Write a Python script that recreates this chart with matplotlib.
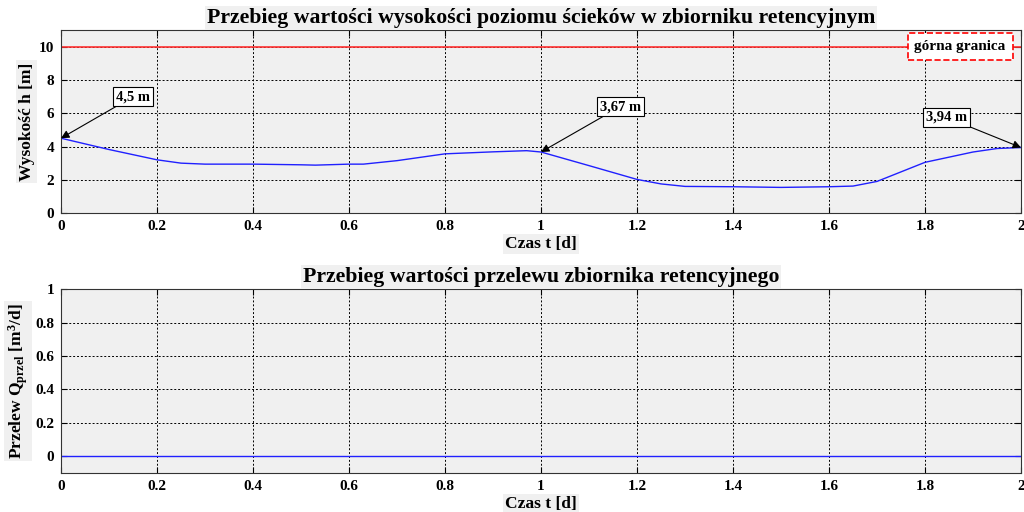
import matplotlib
matplotlib.use("Agg")
import matplotlib.pyplot as plt
import numpy as np

plt.rcParams['font.family'] = ['Liberation Serif', 'DejaVu Serif']
plt.rcParams['font.weight'] = 'bold'
plt.rcParams['mathtext.fontset'] = 'custom'
plt.rcParams['mathtext.rm'] = 'Liberation Serif:weight=bold'
plt.rcParams['mathtext.bf'] = 'Liberation Serif:weight=bold'
plt.rcParams['mathtext.it'] = 'Liberation Serif:weight=bold'
plt.rcParams['mathtext.default'] = 'rm'

# data
t = [0.0, 0.1, 0.2, 0.25, 0.3, 0.4, 0.5, 0.53, 0.6, 0.63, 0.7, 0.8, 0.9, 0.97,
     1.0, 1.1, 1.2, 1.25, 1.3, 1.4, 1.5, 1.6, 1.65, 1.7, 1.8, 1.9, 1.95, 2.0]
h = [4.5, 3.82, 3.2, 3.0, 2.94, 2.94, 2.9, 2.88, 2.94, 2.94, 3.15, 3.56, 3.68, 3.75,
     3.67, 2.85, 2.02, 1.75, 1.6, 1.58, 1.54, 1.58, 1.62, 1.9, 3.05, 3.67, 3.88, 3.94]
h_max = 10
t_q = [0.0, 2.0]
q = [0.0, 0.0]

annot = [("4,5 m", 0.0, 4.5, 0.15, 7.0),
         ("3,67 m", 1.0, 3.67, 1.165, 6.4),
         ("3,94 m", 2.0, 3.94, 1.845, 5.75)]

xticks = [0, 0.2, 0.4, 0.6, 0.8, 1, 1.2, 1.4, 1.6, 1.8, 2]
xlabels = ["0", "0.2", "0.4", "0.6", "0.8", "1", "1.2", "1.4", "1.6", "1.8", "2"]

bg = "#f0f0f0"
lab_box = dict(facecolor=bg, edgecolor="none", pad=1.5)

fig = plt.figure(figsize=(10.24, 5.12), dpi=100)
ax1 = fig.add_axes([0.0596, 0.584, 0.9375, 0.357])
ax2 = fig.add_axes([0.0596, 0.0762, 0.9375, 0.359])


def style(ax):
    ax.set_facecolor(bg)
    ax.set_xlim(0, 2)
    ax.set_xticks(xticks)
    ax.set_xticklabels(xlabels)
    ax.grid(True, color="black", linestyle=(0, (2, 2)), linewidth=0.7)
    ax.tick_params(direction="in", top=True, right=True, labelsize=11, length=4, pad=5)
    for s in ax.spines.values():
        s.set_linewidth(0.8)
        s.set_color("#333333")


# top chart
ax1.plot(t, h, color="#2020ff", linewidth=1)
ax1.axhline(h_max, color="#ff3030", linewidth=1.2)
style(ax1)
ax1.set_ylim(0, 11)
ax1.set_yticks([0, 2, 4, 6, 8, 10])
ax1.set_title("Przebieg wartości wysokości poziomu ścieków w zbiorniku retencyjnym",
              fontsize=15.7, fontweight="bold", bbox=lab_box, pad=5)
ax1.set_xlabel("Czas t [d]", fontsize=12.5, fontweight="bold", bbox=lab_box, labelpad=2)
ax1.set_ylabel("Wysokość h [m]", fontsize=12.5, fontweight="bold", bbox=lab_box, labelpad=3)

for txt, x0, y0, xt, yt in annot:
    ax1.annotate(txt, xy=(x0, y0), xytext=(xt, yt), fontsize=10.5, fontweight="bold",
                 ha="center", va="center",
                 bbox=dict(facecolor="white", edgecolor="black", linewidth=0.8, pad=2),
                 arrowprops=dict(arrowstyle="-|>", color="black", linewidth=0.8,
                                 shrinkA=0, shrinkB=0, mutation_scale=12))

ax1.text(1.873, h_max, "górna granica", fontsize=11, fontweight="bold",
         ha="center", va="center",
         bbox=dict(facecolor="white", edgecolor="red", linestyle="--", linewidth=1.2,
                   boxstyle="square,pad=0.45"))

# bottom chart
ax2.plot(t_q, q, color="#2020ff", linewidth=1)
style(ax2)
ax2.set_ylim(-0.1, 1)
ax2.set_yticks([0, 0.2, 0.4, 0.6, 0.8, 1])
ax2.set_yticklabels(["0", "0.2", "0.4", "0.6", "0.8", "1"])
ax2.set_title("Przebieg wartości przelewu zbiornika retencyjnego",
              fontsize=15.7, fontweight="bold", bbox=lab_box, pad=5)
ax2.set_xlabel("Czas t [d]", fontsize=12.5, fontweight="bold", bbox=lab_box, labelpad=2)
ax2.set_ylabel(r"Przelew Q$_{\mathrm{przel}}$ [m$^{\mathrm{3}}$/d]", fontsize=12.5,
               fontweight="bold", bbox=lab_box, labelpad=4)

fig.savefig("out.png", dpi=100, facecolor="white")
